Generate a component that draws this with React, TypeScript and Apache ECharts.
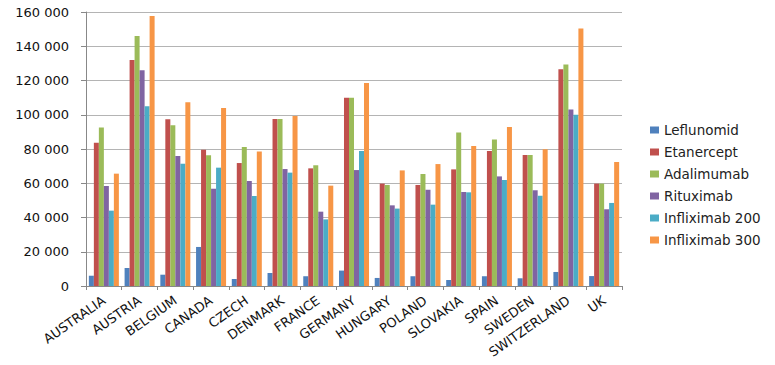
import React, { useEffect, useRef } from "react";
import * as echarts from "echarts";

const countries = ["AUSTRALIA", "AUSTRIA", "BELGIUM", "CANADA", "CZECH", "DENMARK", "FRANCE", "GERMANY", "HUNGARY", "POLAND", "SLOVAKIA", "SPAIN", "SWEDEN", "SWITZERLAND", "UK"];
const leflunomid = [6000, 10500, 6600, 22800, 4100, 7600, 5700, 9000, 4700, 5700, 3500, 5700, 4500, 8200, 5800];
const etanercept = [83700, 132000, 97300, 79600, 71800, 97500, 68700, 110000, 59800, 59000, 68100, 78800, 76500, 126500, 59800];
const adalimumab = [92500, 146000, 93800, 76300, 81200, 97500, 70500, 110000, 59000, 65400, 89700, 85600, 76500, 129400, 59800];
const rituximab = [58400, 126000, 75900, 56800, 61300, 68300, 43400, 67700, 47100, 56200, 54900, 64000, 55900, 103000, 44800];
const infliximab200 = [44000, 105000, 71400, 69100, 52600, 66200, 38900, 78800, 45200, 47500, 54700, 61900, 52700, 100000, 48500];
const infliximab300 = [65600, 157700, 107300, 104000, 78600, 99300, 58600, 118500, 67500, 71200, 81800, 92800, 79800, 150300, 72400];
const seriesNames = ["Leflunomid", "Etanercept", "Adalimumab", "Rituximab", "Infliximab 200", "Infliximab 300"];
const seriesData = [leflunomid, etanercept, adalimumab, rituximab, infliximab200, infliximab300];
const colors = ["#4F81BD", "#C0504D", "#9BBB59", "#8064A2", "#4BACC6", "#F79646"];

const FONT = "'DejaVu Sans', 'Open Sans', sans-serif";

export default function App() {
  const ref = useRef<HTMLDivElement>(null);
  useEffect(() => {
    if (!ref.current) return;
    const chart = echarts.init(ref.current, null, { renderer: "svg" });
    chart.setOption({
      animation: false,
      backgroundColor: "#fff",
      color: colors,
      grid: { left: 86, right: 153, top: 12, bottom: 79 },
      legend: {
        orient: "vertical",
        left: 645,
        top: 118,
        itemWidth: 9,
        itemHeight: 7,
        itemGap: 8,
        icon: "rect",
        textStyle: { fontFamily: FONT, fontSize: 13.5, color: "#222" },
        data: seriesNames,
      },
      xAxis: {
        type: "category",
        data: countries,
        axisLine: { lineStyle: { color: "#888" } },
        axisTick: { show: true, length: 4, lineStyle: { color: "#888" } },
        axisLabel: { rotate: 35, interval: 0, fontFamily: FONT, fontSize: 13, color: "#111", margin: 13 },
      },
      yAxis: {
        type: "value",
        min: 0,
        max: 160000,
        interval: 20000,
        axisLine: { show: true, lineStyle: { color: "#888" } },
        axisTick: { show: true, length: 5, lineStyle: { color: "#888" } },
        splitLine: { lineStyle: { color: "#b4b4b4" } },
        axisLabel: {
          fontFamily: FONT,
          fontSize: 13,
          color: "#111",
          margin: 17,
          formatter: (v: number) => String(v).replace(/\B(?=(\d{3})+(?!\d))/g, " "),
        },
      },
      series: seriesNames.map((name, i) => ({
        name,
        type: "bar",
        data: seriesData[i],
        barGap: "0%",
        barCategoryGap: "16%",
      })),
    });
    return () => chart.dispose();
  }, []);
  return <div ref={ref} style={{ width: 775, height: 365, margin: -8 }} />;
}
